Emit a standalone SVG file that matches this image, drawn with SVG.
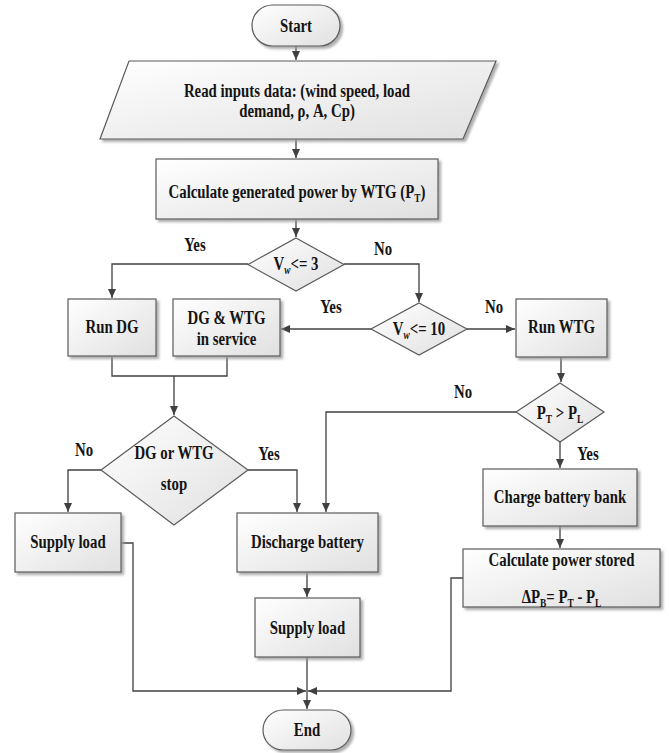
<svg xmlns="http://www.w3.org/2000/svg" width="669" height="753" viewBox="0 0 669 753">
<defs>
<linearGradient id="g" x1="0" y1="0" x2="1" y2="1">
<stop offset="0" stop-color="#ffffff"/>
<stop offset="1" stop-color="#e0e0e0"/>
</linearGradient>
<filter id="sh" x="-10%" y="-10%" width="130%" height="130%">
<feDropShadow dx="2.5" dy="2.5" stdDeviation="1" flood-color="#9a9a9a" flood-opacity="0.8"/>
</filter>
<marker id="ah" markerWidth="10" markerHeight="8" refX="9" refY="4" orient="auto" markerUnits="userSpaceOnUse">
<path d="M0,0 L9,4 L0,8 Z" fill="#404040"/>
</marker>
<style>
.box{fill:url(#g);stroke:#5a5a5a;stroke-width:1.2;filter:url(#sh)}
.dia{fill:url(#g);stroke:#5a5a5a;stroke-width:1.2}
.t{font-family:"Liberation Serif","Times New Roman",serif;font-weight:bold;font-size:19px;fill:#141414;text-anchor:middle}
.s{font-size:12px}
.c{fill:none;stroke:#404040;stroke-width:1.3}
</style>
</defs>
<rect width="669" height="753" fill="#ffffff"/>

<g id="connectors">
<path class="c" d="M296,46 V60" marker-end="url(#ah)"/>
<path class="c" d="M296,139 V158" marker-end="url(#ah)"/>
<path class="c" d="M296,219 V237" marker-end="url(#ah)"/>
<path class="c" d="M248,264 H112 V298" marker-end="url(#ah)"/>
<path class="c" d="M344,264 H419 V302" marker-end="url(#ah)"/>
<path class="c" d="M371,329 H281" marker-end="url(#ah)"/>
<path class="c" d="M467,329 H515" marker-end="url(#ah)"/>
<path class="c" d="M112,356 V376 H227 V356"/>
<path class="c" d="M174,376 V415" marker-end="url(#ah)"/>
<path class="c" d="M101,470 H68 V512" marker-end="url(#ah)"/>
<path class="c" d="M248,470 H297 V512" marker-end="url(#ah)"/>
<path class="c" d="M561,357 V382" marker-end="url(#ah)"/>
<path class="c" d="M516,412 H326 V512" marker-end="url(#ah)"/>
<path class="c" d="M560,442 V468" marker-end="url(#ah)"/>
<path class="c" d="M560,526 V548" marker-end="url(#ah)"/>
<path class="c" d="M307,572 V597" marker-end="url(#ah)"/>
<path class="c" d="M307,657 V709" marker-end="url(#ah)"/>
<path class="c" d="M121,543 H133 V691 H306" marker-end="url(#ah)"/>
<path class="c" d="M463,578 H451 V691 H308" marker-end="url(#ah)"/>
<text class="t" transform="translate(195,251) scale(0.78,1)">Yes</text>
<text class="t" transform="translate(383,255) scale(0.78,1)">No</text>
<text class="t" transform="translate(331,313) scale(0.78,1)">Yes</text>
<text class="t" transform="translate(494,313) scale(0.78,1)">No</text>
<text class="t" transform="translate(84,456) scale(0.78,1)">No</text>
<text class="t" transform="translate(269,460) scale(0.78,1)">Yes</text>
<text class="t" transform="translate(463,398) scale(0.78,1)">No</text>
<text class="t" transform="translate(588,460) scale(0.78,1)">Yes</text>
</g>

<g id="start">
<rect class="box" x="252" y="5" width="88" height="41" rx="20.5"/>
<text class="t" transform="translate(296,31.5) scale(0.78,1)">Start</text>
</g>

<g id="input">
<polygon class="box" points="129,61 496,61 463,139 100,139"/>
<text class="t" transform="translate(297,97) scale(0.78,1)">Read inputs data: (wind speed, load</text>
<text class="t" transform="translate(297,117) scale(0.78,1)">demand, ρ, A, Cp)</text>
</g>

<g id="calc">
<rect class="box" x="156" y="159" width="282" height="60"/>
<text class="t" transform="translate(297,198) scale(0.78,1)">Calculate generated power by WTG (P<tspan class="s" dy="4">T</tspan><tspan dy="-4">)</tspan></text>
</g>

<g id="d1">
<polygon class="dia" points="296,238 344,264.5 296,291 248,264.5"/>
<text class="t" transform="translate(296,270) scale(0.78,1)">V<tspan class="s" dy="4" font-style="italic">w</tspan><tspan dy="-4">&lt;= 3</tspan></text>
</g>

<g id="rundg">
<rect class="box" x="68" y="299" width="88" height="57"/>
<text class="t" transform="translate(112,333) scale(0.78,1)">Run DG</text>
</g>

<g id="dgwtg">
<rect class="box" x="173" y="299" width="107" height="57"/>
<text class="t" transform="translate(226.5,323.5) scale(0.78,1)">DG &amp; WTG</text>
<text class="t" transform="translate(226.5,345) scale(0.78,1)">in service</text>
</g>

<g id="d2">
<polygon class="dia" points="419,303 467,329 419,355 371,329"/>
<text class="t" transform="translate(419,335) scale(0.78,1)">V<tspan class="s" dy="4" font-style="italic">w</tspan><tspan dy="-4">&lt;= 10</tspan></text>
</g>

<g id="runwtg">
<rect class="box" x="516" y="299" width="91" height="58"/>
<text class="t" transform="translate(561.5,333) scale(0.78,1)">Run WTG</text>
</g>

<g id="d3">
<polygon class="dia" points="174,416 248,470 174,525 101,470"/>
<text class="t" transform="translate(174,459) scale(0.78,1)">DG or WTG</text>
<text class="t" transform="translate(174,490) scale(0.78,1)">stop</text>
</g>

<g id="d4">
<polygon class="dia" points="560,383 604,412 560,442 516,412"/>
<text class="t" transform="translate(560,419) scale(0.78,1)">P<tspan class="s" dy="4">T</tspan><tspan dy="-4"> &gt; P</tspan><tspan class="s" dy="4">L</tspan></text>
</g>

<g id="charge">
<rect class="box" x="483" y="469" width="154" height="57"/>
<text class="t" transform="translate(560,503) scale(0.78,1)">Charge battery bank</text>
</g>

<g id="store">
<rect class="box" x="463" y="549" width="197" height="58"/>
<text class="t" transform="translate(561.5,566) scale(0.78,1)">Calculate power stored</text>
<text class="t" transform="translate(561.5,603) scale(0.78,1)">ΔP<tspan class="s" dy="4">B</tspan><tspan dy="-4">= P</tspan><tspan class="s" dy="4">T</tspan><tspan dy="-4"> - P</tspan><tspan class="s" dy="4">L</tspan></text>
</g>

<g id="supply1">
<rect class="box" x="15" y="513" width="106" height="59"/>
<text class="t" transform="translate(68,548) scale(0.78,1)">Supply load</text>
</g>

<g id="discharge">
<rect class="box" x="237" y="513" width="141" height="59"/>
<text class="t" transform="translate(307.5,548) scale(0.78,1)">Discharge battery</text>
</g>

<g id="supply2">
<rect class="box" x="255" y="598" width="105" height="59"/>
<text class="t" transform="translate(307.5,634) scale(0.78,1)">Supply load</text>
</g>

<g id="end">
<rect class="box" x="263" y="710" width="88" height="40" rx="20"/>
<text class="t" transform="translate(307,736) scale(0.78,1)">End</text>
</g>
</svg>
